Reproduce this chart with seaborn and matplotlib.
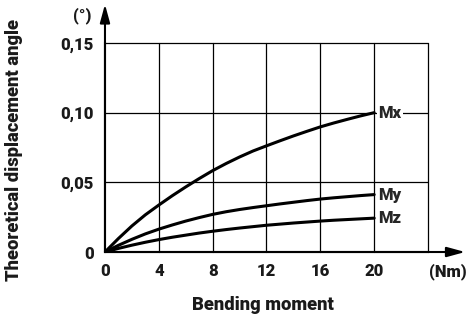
import pandas as pd
import numpy as np
import matplotlib.pyplot as plt
import seaborn as sns

# Values (angle in degrees vs bending moment in Nm)
moment = list(range(0, 21))
mx = [0, 0.0097, 0.0187, 0.0267, 0.0337, 0.0404, 0.0467, 0.0527, 0.0584, 0.0635, 0.0682,
      0.0725, 0.0762, 0.0798, 0.0833, 0.0866, 0.0898, 0.0926, 0.0952, 0.0977, 0.1000]
my = [0, 0.0048, 0.0091, 0.0130, 0.0164, 0.0194, 0.0222, 0.0247, 0.0270, 0.0289, 0.0305,
      0.0319, 0.0332, 0.0345, 0.0357, 0.0369, 0.0380, 0.0389, 0.0397, 0.0405, 0.0412]
mz = [0, 0.0026, 0.0049, 0.0070, 0.0089, 0.0106, 0.0121, 0.0136, 0.0149, 0.0161, 0.0172,
      0.0182, 0.0192, 0.0200, 0.0208, 0.0215, 0.0222, 0.0228, 0.0233, 0.0238, 0.0243]
series_names = ["Mx", "My", "Mz"]
x_ticks = [0, 4, 8, 12, 16, 20]
y_ticks = [0, 0.05, 0.10, 0.15]
y_tick_labels = ["0", "0,05", "0,10", "0,15"]

df = pd.DataFrame({"moment": moment, "Mx": mx, "My": my, "Mz": mz})
long_df = df.melt(id_vars="moment", var_name="axis", value_name="angle")

sns.set_style("white")
plt.rcParams["font.family"] = ["Roboto", "Liberation Sans", "DejaVu Sans"]
plt.rcParams["font.weight"] = "heavy"
W = "heavy"

fig = plt.figure(figsize=(4.67, 3.24), dpi=100)
ax = fig.add_axes([0.2248, 0.2222, 0.6917, 0.6451])

sns.lineplot(data=long_df, x="moment", y="angle", hue="axis",
             palette={n: "black" for n in series_names}, linewidth=2.2,
             legend=False, ax=ax)

ax.set_xlim(0, 24)
ax.set_ylim(0, 0.15)
ax.set_xticks(x_ticks)
ax.set_yticks(y_ticks)
ax.set_yticklabels(y_tick_labels)
ax.tick_params(axis="both", labelsize=12, length=5, width=1, direction="out",
               color="black", labelcolor="#1a1a1a", pad=3)
for lbl in ax.get_xticklabels() + ax.get_yticklabels():
    lbl.set_fontweight(W)

# grid including the closing lines at x=24 and y=0.15
for xv in [4, 8, 12, 16, 20, 24]:
    ax.axvline(xv, color="black", linewidth=0.9, zorder=0, clip_on=False)
for yv in [0.05, 0.10, 0.15]:
    ax.axhline(yv, color="black", linewidth=0.9, zorder=0, clip_on=False)

for side in ["top", "right"]:
    ax.spines[side].set_visible(False)
for side in ["left", "bottom"]:
    ax.spines[side].set_linewidth(1.5)
    ax.spines[side].set_color("black")

# axis arrows
arrow = dict(arrowstyle="-|>,head_length=1.1,head_width=0.3",
             color="black", lw=1.5, shrinkA=0, shrinkB=0)
ax.annotate("", xy=(0, 1.185), xytext=(0, 0), xycoords="axes fraction",
            arrowprops=arrow)
ax.annotate("", xy=(1.115, 0), xytext=(0, 0), xycoords="axes fraction",
            arrowprops=arrow)

# series labels at line ends
ends = {"Mx": mx[-1], "My": my[-1], "Mz": mz[-1]}
for name in series_names:
    ax.text(20.3, ends[name], name, fontsize=12, fontweight=W,
            va="center", ha="left", color="#262626",
            bbox=dict(facecolor="white", edgecolor="none", pad=1.0))

fig.text(82 / 467, 1 - 16 / 324, "(°)", fontsize=12, fontweight=W,
         ha="center", va="center", color="#1a1a1a")
fig.text(448 / 467, 1 - 272 / 324, "(Nm)", fontsize=12, fontweight=W,
         ha="center", va="center", color="#1a1a1a")

ax.set_xlabel("")
ax.set_ylabel("")
fig.text(263 / 467, 1 - 305 / 324, "Bending moment", fontsize=13.2,
         fontweight=W, ha="center", va="center", color="#1a1a1a")
fig.text(14 / 467, 1 - 150 / 324, "Theoretical displacement angle",
         fontsize=13.2, fontweight=W, ha="center", va="center",
         rotation=90, color="#1a1a1a")

fig.savefig("out.png", dpi=100)
